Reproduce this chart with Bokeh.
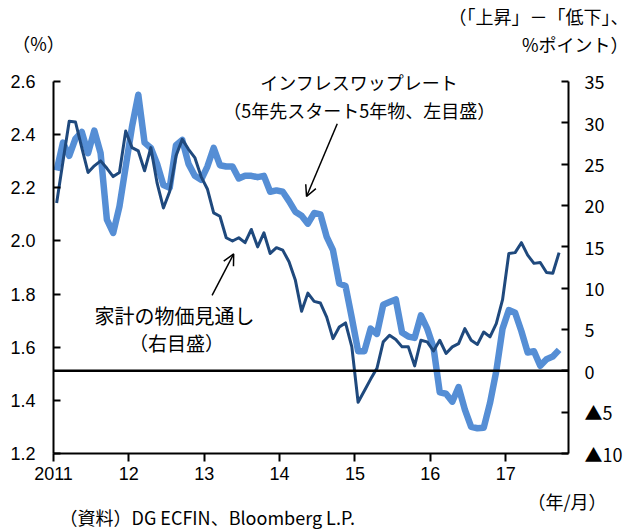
from bokeh.plotting import figure
from bokeh.layouts import column
from bokeh.models import Range1d, LinearAxis, FixedTicker, Span, Label, Arrow, OpenHead, PrintfTickFormatter
from bokeh.embed import file_html
from bokeh.resources import INLINE

# ---- data (monthly, Jan 2011 - Sep 2017) ----
n_months = 81
month_labels = [f"{2011 + i // 12}/{i % 12 + 1}" for i in range(n_months)]

# 5y5y inflation swap rate (%, left axis)
swap_rate = [2.265, 2.37, 2.32, 2.385, 2.41, 2.33, 2.415, 2.33, 2.08, 2.03, 2.13, 2.28,
             2.43, 2.55, 2.37, 2.35, 2.29, 2.21, 2.20, 2.36, 2.38, 2.29, 2.245, 2.23,
             2.28, 2.35, 2.285, 2.28, 2.28, 2.235, 2.245, 2.245, 2.24, 2.245, 2.185, 2.19,
             2.185, 2.15, 2.11, 2.095, 2.065, 2.105, 2.10, 2.015, 1.965, 1.84, 1.83, 1.71,
             1.585, 1.585, 1.67, 1.65, 1.76, 1.77, 1.78, 1.655, 1.64, 1.635, 1.72, 1.67,
             1.60, 1.43, 1.425, 1.395, 1.45, 1.365, 1.30, 1.295, 1.297, 1.39, 1.51, 1.67,
             1.74, 1.73, 1.66, 1.58, 1.585, 1.53, 1.555, 1.565, 1.59]

# household price expectations (% points, right axis)
household = [20.3, 25.3, 30.2, 30.1, 27.0, 24.0, 24.8, 25.4, 24.5, 23.5, 24.0, 29.0,
             27.0, 26.6, 24.2, 27.0, 22.7, 19.7, 21.7, 26.0, 28.0, 26.8, 25.8, 23.5,
             22.0, 19.1, 18.7, 16.1, 15.7, 16.1, 15.5, 17.1, 15.0, 16.7, 14.2, 14.9,
             14.6, 13.2, 11.0, 7.2, 9.4, 8.4, 8.2, 6.5, 3.9, 5.3, 5.8, 2.9,
             -3.8, -2.4, -1.0, 0.3, 3.5, 4.3, 3.8, 2.9, 2.9, 0.6, 3.7, 3.5,
             2.4, 3.7, 2.1, 2.9, 3.3, 5.1, 3.7, 3.2, 4.7, 4.1, 5.7, 8.6,
             14.2, 14.3, 15.5, 14.0, 13.0, 13.1, 11.9, 11.8, 14.3]

year_ticks = [0, 12, 24, 36, 48, 60, 72]
year_labels = ["2011", "12", "13", "14", "15", "16", "17"]
left_ticks = [1.2, 1.4, 1.6, 1.8, 2.0, 2.2, 2.4, 2.6]
right_ticks = [-10, -5, 0, 5, 10, 15, 20, 25, 30, 35]
right_labels = {-10: "▲10", -5: "▲5"}

x = [i + 0.5 for i in range(n_months)]

LIGHT = "#558ED5"
DARK = "#1F497D"
NUM_FONT = "'Liberation Sans', 'Noto Sans CJK JP'"
JP_FONT = "Noto Sans CJK JP"
W = 629


def text_strip(height):
    f = figure(width=W, height=height, output_backend="svg", toolbar_location=None,
               x_range=Range1d(0, W), y_range=Range1d(height, 0),
               x_axis_type=None, y_axis_type=None, min_border=0, frame_align=False)
    f.xgrid.visible = False
    f.ygrid.visible = False
    f.outline_line_color = None
    return f


def lab(fig, xv, yv, text, size="18px", align="center"):
    fig.add_layout(Label(x=xv, y=yv, text=text, text_font=JP_FONT, text_font_size=size,
                         text_align=align, text_baseline="middle", text_color="black"))


# ---- header (unit captions) ----
header = text_strip(60)
lab(header, 38, 42, "（%）")
lab(header, 628, 15, "（「上昇」－「低下」、", align="right")
lab(header, 628, 43, "%ポイント）", align="right")

# ---- main chart ----
p = figure(width=W, height=428, output_backend="svg", toolbar_location=None,
           x_range=Range1d(0, 82), y_range=Range1d(1.2, 2.6414), frame_align=False,
           min_border_left=53, min_border_right=61, min_border_top=10, min_border_bottom=35)
p.extra_y_ranges = {"right": Range1d(-10, 36.33)}
p.xgrid.visible = False
p.ygrid.visible = False
p.outline_line_color = None


def style_axis(ax):
    ax.axis_line_color = "black"
    ax.axis_line_width = 2
    ax.major_tick_line_color = "black"
    ax.major_tick_line_width = 2
    ax.minor_tick_line_color = None
    ax.major_label_text_font = NUM_FONT
    ax.major_label_text_font_size = "18px"
    ax.major_label_text_color = "black"


la = p.yaxis[0]
style_axis(la)
la.ticker = FixedTicker(ticks=left_ticks)
la.formatter = PrintfTickFormatter(format="%.1f")
la.bounds = (1.2, 2.6)
la.major_tick_in = 7
la.major_tick_out = 0
la.major_label_standoff = 18

ba = p.xaxis[0]
style_axis(ba)
ba.ticker = FixedTicker(ticks=year_ticks)
ba.major_label_overrides = {t: s for t, s in zip(year_ticks, year_labels)}
ba.major_tick_in = 0
ba.major_tick_out = 8
ba.major_label_standoff = 5

ra = LinearAxis(y_range_name="right", ticker=FixedTicker(ticks=right_ticks))
style_axis(ra)
ra.major_label_text_font = "'Noto Sans CJK JP', 'Liberation Sans'"
ra.major_label_overrides = right_labels
ra.bounds = (-10, 35)
ra.major_tick_in = 7
ra.major_tick_out = 0
ra.major_label_standoff = 16
p.add_layout(ra, "right")

p.line(x, swap_rate, line_color=LIGHT, line_width=6.5, line_join="round")
p.line(x, household, y_range_name="right", line_color=DARK, line_width=3, line_join="round")

p.add_layout(Span(location=0, dimension="width", y_range_name="right",
                  line_color="black", line_width=2.5))

lab(p, 48.7, 2.597, "インフレスワップレート")
lab(p, 48.7, 2.491, "（5年先スタート5年物、左目盛）")
lab(p, 19.27, 1.719, "家計の物価見通し", size="20px")
lab(p, 19.59, 1.619, "（右目盛）", size="19px")

p.add_layout(Arrow(end=OpenHead(size=11, line_width=1.5, line_color="black"),
                   x_start=45.18, y_start=2.441, x_end=40.29, y_end=2.167,
                   line_width=1.5, line_color="black"))
p.add_layout(Arrow(end=OpenHead(size=11, line_width=1.5, line_color="black"),
                   x_start=25.25, y_start=1.795, x_end=28.69, y_end=1.951,
                   line_width=1.5, line_color="black"))

# ---- footer (axis unit and source) ----
footer = text_strip(43)
lab(footer, 606, 12, "（年/月）", align="right")
lab(footer, 59, 28, "（資料）DG ECFIN、Bloomberg L.P.", align="left")

layout = column(header, p, footer, spacing=0)
open("out.html", "w").write(file_html(layout, INLINE))
